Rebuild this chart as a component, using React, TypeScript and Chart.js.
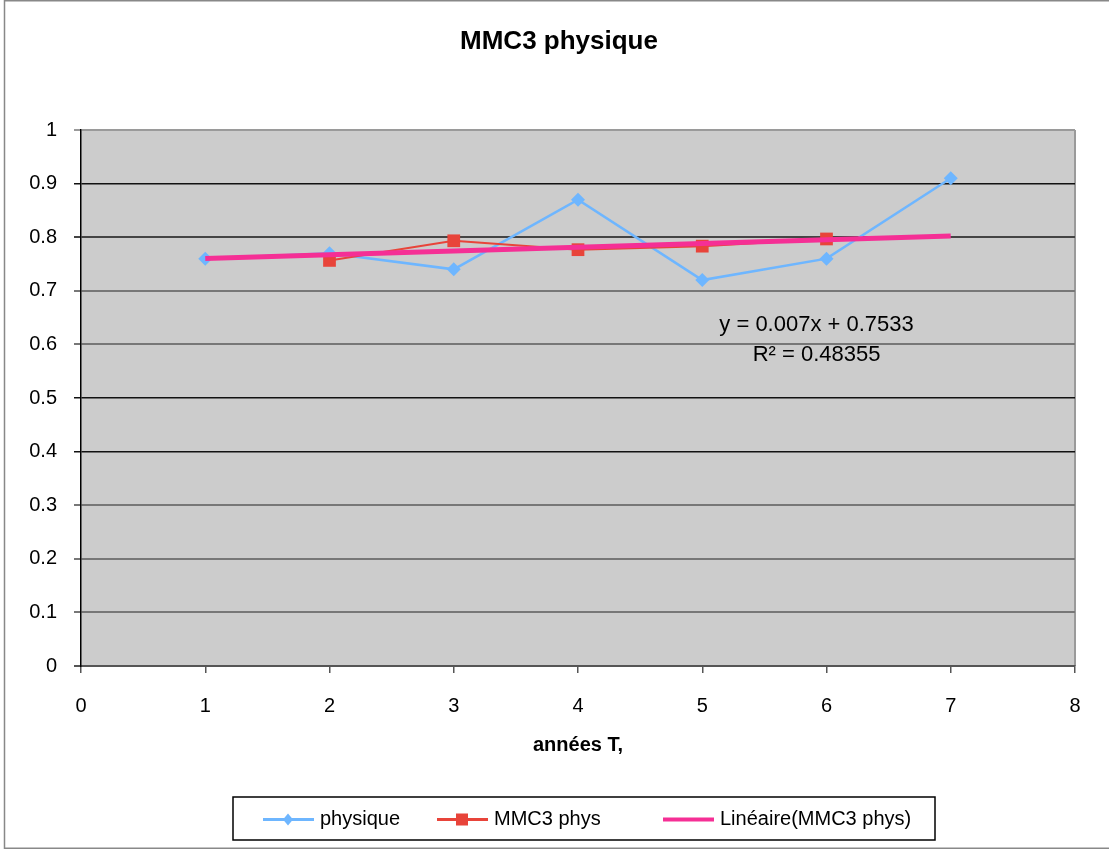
import React, { useEffect, useRef } from "react";
import { Chart, registerables } from "chart.js";

Chart.register(...registerables);

const titleText = "MMC3 physique";
const xAxisTitle = "années T,";
const xValues = [1, 2, 3, 4, 5, 6, 7];
const physique = [0.76, 0.77, 0.74, 0.87, 0.72, 0.76, 0.91];
const mmc3X = [2, 3, 4, 5, 6];
const mmc3 = [0.7567, 0.7933, 0.7767, 0.7833, 0.7967];
const trendX = [1, 7];
const trend = [0.7603, 0.8023];
const equationLines = ["y = 0.007x + 0.7533", "R² = 0.48355"];
const legendLabels = ["physique", "MMC3 phys", "Linéaire(MMC3 phys)"];

const BLUE = "#6EB6FF";
const RED = "#E8443A";
const PINK = "#F52F95";
const FONT = "'Liberation Sans', Arial, sans-serif";

const gridColors: Record<number, string> = {
  0: "#555555", 1: "#777777", 2: "#777777", 3: "#777777", 4: "#111111",
  5: "#111111", 6: "#777777", 7: "#777777", 8: "#444444", 9: "#111111", 10: "#9a9a9a",
};

const decorPlugin = {
  id: "decor",
  beforeDraw(chart: any) {
    const { ctx, chartArea: a } = chart;
    ctx.save();
    ctx.fillStyle = "#ffffff";
    ctx.fillRect(0, 0, chart.width, chart.height);
    ctx.fillStyle = "#CCCCCC";
    ctx.fillRect(a.left, a.top, a.right - a.left, a.bottom - a.top);
    ctx.strokeStyle = "#9a9a9a";
    ctx.lineWidth = 2;
    ctx.beginPath();
    ctx.moveTo(a.right, a.top);
    ctx.lineTo(a.right, a.bottom);
    ctx.stroke();
    ctx.restore();
  },
  afterDraw(chart: any) {
    const { ctx, scales } = chart;
    ctx.save();
    // outer border
    ctx.strokeStyle = "#888888";
    ctx.lineWidth = 1.5;
    ctx.strokeRect(4.5, 0.75, chart.width + 20, chart.height - 2.5);
    // title
    ctx.fillStyle = "#000";
    ctx.font = `bold 26px ${FONT}`;
    ctx.textAlign = "center";
    ctx.textBaseline = "middle";
    ctx.fillText(titleText, 559, 42);
    // equation
    ctx.font = `22px ${FONT}`;
    const ex = scales.x.getPixelForValue(5.92);
    ctx.fillText(equationLines[0], ex, scales.y.getPixelForValue(0.637));
    ctx.fillText(equationLines[1], ex, scales.y.getPixelForValue(0.58));
    // legend
    const top = chart.height - 53;
    const left = 233;
    const w = 702;
    const h = 43;
    ctx.strokeStyle = "#000";
    ctx.lineWidth = 1.5;
    ctx.strokeRect(left, top, w, h);
    const cy = top + h / 2 + 1;
    const items = [
      { x: 263, color: BLUE, lw: 3, marker: "diamond", text: legendLabels[0] },
      { x: 437, color: RED, lw: 3, marker: "square", text: legendLabels[1] },
      { x: 663, color: PINK, lw: 4, marker: "none", text: legendLabels[2] },
    ];
    ctx.font = `20px ${FONT}`;
    ctx.textAlign = "left";
    for (const it of items) {
      ctx.strokeStyle = it.color;
      ctx.lineWidth = it.lw;
      ctx.beginPath();
      ctx.moveTo(it.x, cy);
      ctx.lineTo(it.x + 51, cy);
      ctx.stroke();
      ctx.fillStyle = it.color;
      const mx = it.x + 25;
      if (it.marker === "diamond") {
        ctx.beginPath();
        ctx.moveTo(mx, cy - 6);
        ctx.lineTo(mx + 5, cy);
        ctx.lineTo(mx, cy + 6);
        ctx.lineTo(mx - 5, cy);
        ctx.closePath();
        ctx.fill();
      } else if (it.marker === "square") {
        ctx.fillRect(mx - 6, cy - 6, 12, 12);
      }
      ctx.fillStyle = "#000";
      ctx.fillText(it.text, it.x + 57, cy);
    }
    ctx.restore();
  },
};

export default function App() {
  const ref = useRef<HTMLCanvasElement>(null);
  useEffect(() => {
    document.body.style.margin = "0";
    Chart.defaults.font.family = FONT;
    Chart.defaults.color = "#000";
    const chart = new Chart(ref.current!, {
      type: "scatter",
      data: {
        datasets: [
          {
            label: legendLabels[2],
            data: trendX.map((x, i) => ({ x, y: trend[i] })),
            showLine: true,
            borderColor: PINK,
            borderWidth: 5,
            pointRadius: 0,
            order: 0,
          },
          {
            label: legendLabels[1],
            data: mmc3X.map((x, i) => ({ x, y: mmc3[i] })),
            showLine: true,
            borderColor: RED,
            backgroundColor: RED,
            borderWidth: 2,
            pointStyle: "rect",
            pointRadius: 9,
            pointBorderWidth: 0,
            order: 1,
          },
          {
            label: legendLabels[0],
            data: xValues.map((x, i) => ({ x, y: physique[i] })),
            showLine: true,
            borderColor: BLUE,
            backgroundColor: BLUE,
            borderWidth: 2.5,
            pointStyle: "rectRot",
            pointRadius: 7,
            pointBorderWidth: 0,
            order: 2,
          },
        ],
      },
      options: {
        responsive: false,
        animation: false,
        layout: { padding: { left: 0, right: 34, top: 130, bottom: 84 } },
        plugins: {
          legend: { display: false },
          tooltip: { enabled: false },
          title: { display: false },
        },
        scales: {
          x: {
            type: "linear",
            min: 0,
            max: 8,
            afterFit: (s: any) => { s.height = 100; },
            ticks: { stepSize: 1, font: { size: 20 }, padding: 21, color: "#000" },
            grid: { display: true, drawOnChartArea: false, drawTicks: true, tickLength: 7, color: "#555", lineWidth: 1.5 },
            border: { display: true, color: "#555", width: 2 },
            title: {
              display: true,
              text: xAxisTitle,
              font: { size: 20, weight: "bold", family: FONT },
              color: "#000",
              padding: { top: 4, bottom: 9 },
            },
          },
          y: {
            type: "linear",
            min: 0,
            max: 1,
            afterFit: (s: any) => { s.width = 81; },
            ticks: {
              stepSize: 0.1,
              font: { size: 20 },
              padding: 17,
              color: "#000",
              callback: (v: any) => String(Number(Number(v).toFixed(1))),
            },
            grid: {
              color: (c: any) => gridColors[Math.round((c.tick?.value ?? 0) * 10)] || "#777",
              lineWidth: (c: any) => {
                const k = Math.round((c.tick?.value ?? 0) * 10);
                return k === 4 || k === 5 || k === 9 ? 1.5 : 2;
              },
              tickLength: 7,
            },
            border: { display: true, color: "#000", width: 1.5 },
          },
        },
      },
      plugins: [decorPlugin],
    });
    return () => chart.destroy();
  }, []);
  return (
    <div style={{ position: "absolute", left: 0, top: 0, width: 1109, height: 850 }}>
      <canvas ref={ref} width={1109} height={850} />
    </div>
  );
}
